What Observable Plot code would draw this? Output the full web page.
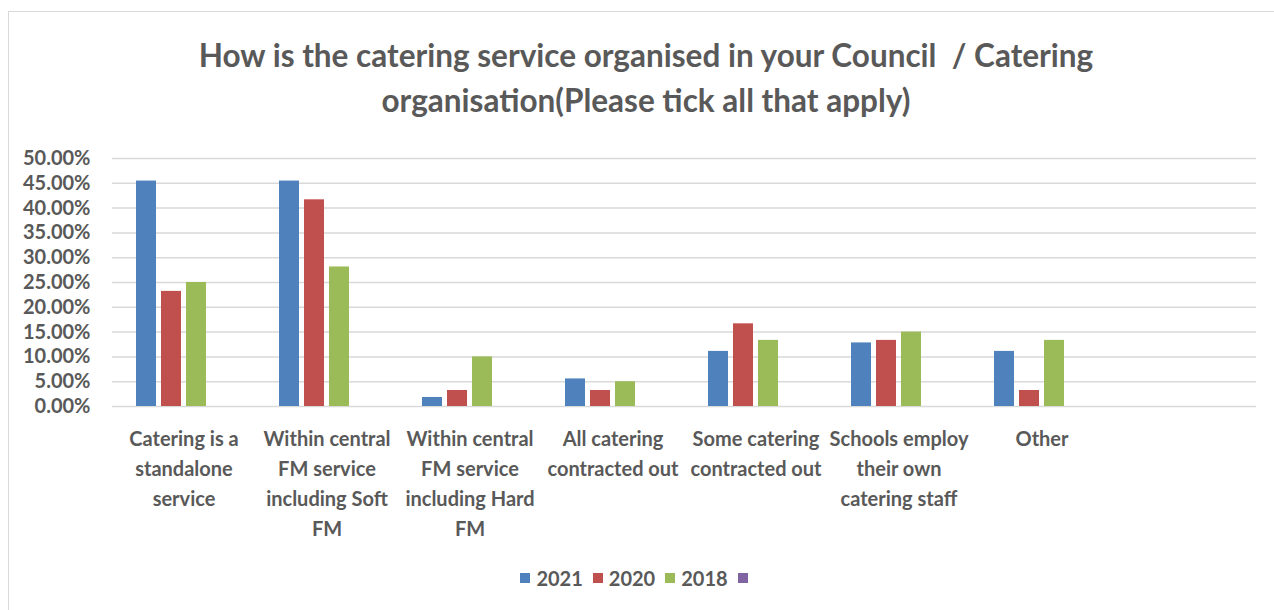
<!DOCTYPE html>
<html>
<head>
<meta charset="utf-8">
<script src="https://cdn.jsdelivr.net/npm/d3@7"></script>
<script src="https://cdn.jsdelivr.net/npm/@observablehq/plot@0.6"></script>
<style>
  html, body { margin: 0; padding: 0; background: #fff; }
  body { width: 1274px; height: 610px; position: relative; overflow: hidden; font-family: Lato, "Noto Sans", sans-serif; color: #595959; }
  #frame { position: absolute; left: 8px; top: 11px; width: 1280px; height: 620px; border: 1.5px solid #d9d9d9; box-sizing: border-box; }
  #title { position: absolute; left: 10px; width: 1272px; top: 33px; text-align: center; font-size: 31.5px; line-height: 45px; font-weight: 700; white-space: pre; color: #595959; }
  #chart { position: absolute; left: 0; top: 120px; }
  #legend { position: absolute; left: 0; width: 1274px; top: 563px; height: 30px; display: flex; justify-content: center; align-items: center; gap: 0; font-size: 20px; font-weight: 700; color: #595959; }
  .item { display: flex; align-items: center; margin: 0 5px; }
  .sw { width: 10px; height: 10px; margin-right: 6px; }
</style>
</head>
<body>
<div id="frame"></div>
<div id="title"></div>
<div id="chart"></div>
<div id="legend"></div>
<script>
const titleLines = ["How is the catering service organised in your Council  / Catering", "organisation(Please tick all that apply)"];
const categories = ["Catering is a standalone service", "Within central FM service including Soft FM", "Within central FM service including Hard FM", "All catering contracted out", "Some catering contracted out", "Schools employ their own catering staff", "Other", "(blank)"];
const tickLabels = ["Catering is a\nstandalone\nservice", "Within central\nFM service\nincluding Soft\nFM", "Within central\nFM service\nincluding Hard\nFM", "All catering\ncontracted out", "Some catering\ncontracted out", "Schools employ\ntheir own\ncatering staff", "Other", ""];
const series = ["2021", "2020", "2018", ""];
const values2021 = [0.4545, 0.4545, 0.0182, 0.0556, 0.1111, 0.1282, 0.1111, null];
const values2020 = [0.2321, 0.4167, 0.0323, 0.0323, 0.1667, 0.1333, 0.0323, null];
const values2018 = [0.2500, 0.2813, 0.1000, 0.0500, 0.1333, 0.1500, 0.1333, null];
const valuesBlank = [null, null, null, null, null, null, null, null];
const colors = ["#4f81bd", "#c0504d", "#9bbb59", "#8064a2"];
const yTicks = [0, 0.05, 0.10, 0.15, 0.20, 0.25, 0.30, 0.35, 0.40, 0.45, 0.50];

document.getElementById("title").textContent = titleLines.join("\n");

const allValues = [values2021, values2020, values2018, valuesBlank];
const rows = [];
categories.forEach((c, i) => {
  series.forEach((s, j) => {
    rows.push({category: c, series: s, value: allValues[j][i]});
  });
});

const fmt = d3.format(".2%");
const chart = Plot.plot({
  width: 1274,
  height: 440,
  marginTop: 38,
  marginBottom: 154,
  marginLeft: 110,
  marginRight: 16,
  style: {fontFamily: "Lato, 'Noto Sans', sans-serif", fontSize: "20px", color: "#595959", background: "transparent", fontWeight: 700},
  fx: {domain: categories, padding: 0, label: null},
  x: {domain: series, paddingInner: 0.22, paddingOuter: 0.9, axis: null},
  y: {domain: [0, 0.5], label: null},
  color: {domain: series, range: colors},
  marks: [
    Plot.gridY(yTicks, {stroke: "#d9d9d9", strokeOpacity: 1, strokeWidth: 1.5}),
    Plot.axisY(yTicks, {tickSize: 0, tickPadding: 22, tickFormat: fmt, fill: "#595959", fontSize: 20, label: null}),
    Plot.barY(rows, {fx: "category", x: "series", y: "value", fill: "series"}),
    Plot.axisFx({anchor: "bottom", tickSize: 0, tickPadding: 18, lineHeight: 1.5, fill: "#595959", fontSize: 20, label: null,
      tickFormat: (d) => tickLabels[categories.indexOf(d)]})
  ]
});
document.getElementById("chart").appendChild(chart);

const legend = document.getElementById("legend");
series.forEach((s, i) => {
  const item = document.createElement("div");
  item.className = "item";
  const sw = document.createElement("span");
  sw.className = "sw";
  sw.style.background = colors[i];
  const label = document.createElement("span");
  label.textContent = s;
  item.appendChild(sw);
  item.appendChild(label);
  legend.appendChild(item);
});
</script>
</body>
</html>
